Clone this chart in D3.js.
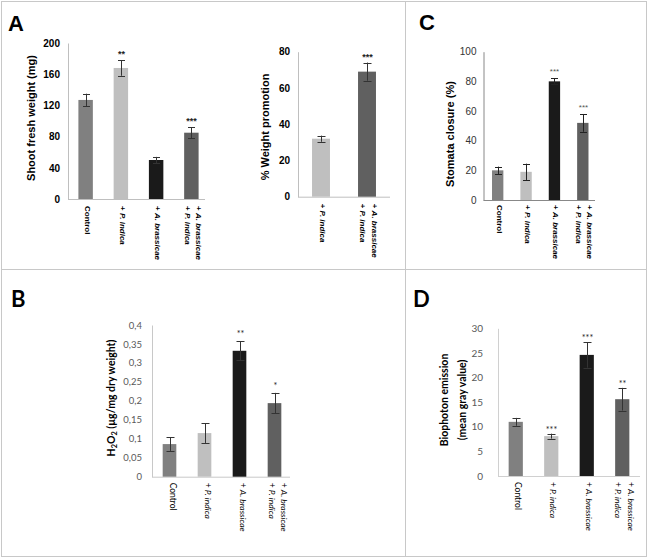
<!DOCTYPE html>
<html><head><meta charset="utf-8">
<script src="https://cdn.jsdelivr.net/npm/d3@7"></script>
<style>body{margin:0;background:#fff}svg{display:block}</style>
</head><body>
<svg id="chart" width="649" height="558"></svg>
<script>
// ---------- data ----------
const categories = ["Control", "+ P. indica", "+ A. brassicae", "+ A. brassicae|+ P. indica"];
const promoCategories = ["+ P. indica", "+ A. brassicae|+ P. indica"];
const barColors = ["#808080", "#bfbfbf", "#1a1a1a", "#606060"];
const promoColors = ["#bfbfbf", "#606060"];

const shootWeight = [127, 168, 50, 85];
const shootWeightErr = [8, 10, 4, 7];
const shootWeightSig = ["", "**", "", "***"];
const shootTicks = [0, 40, 80, 120, 160, 200];

const weightPromotion = [32, 69];
const weightPromotionErr = [1.7, 5];
const weightPromotionSig = ["", "***"];
const promotionTicks = [0, 20, 40, 60, 80];

const stomataClosure = [20, 19, 80, 52];
const stomataClosureErr = [2.5, 5.5, 2, 6];
const stomataClosureSig = ["", "", "***", "***"];
const stomataTicks = [0, 20, 40, 60, 80, 100];

const h2o2 = [0.086, 0.115, 0.332, 0.194];
const h2o2Err = [0.018, 0.026, 0.025, 0.027];
const h2o2Sig = ["", "", "**", "*"];
const h2o2Ticks = [0, 0.05, 0.1, 0.15, 0.2, 0.25, 0.3, 0.35, 0.4];

const biophoton = [11.0, 8.1, 24.6, 15.6];
const biophotonErr = [0.8, 0.5, 2.6, 2.3];
const biophotonSig = ["", "***", "***", "**"];
const biophotonTicks = [0, 5, 10, 15, 20, 25, 30];

// ---------- drawing ----------
const svg = d3.select("#chart");
const ARIAL = "'Liberation Sans', Arial, sans-serif";
const CALIBRI = "Lato, 'Open Sans', sans-serif";

// frame
const frame = svg.append("g").attr("fill", "none").attr("stroke", "#c8c8c8").attr("stroke-width", 1);
frame.append("rect").attr("x", 1.5).attr("y", 1.5).attr("width", 645).attr("height", 555);
frame.append("line").attr("x1", 1.5).attr("x2", 646.5).attr("y1", 269.5).attr("y2", 269.5);
frame.append("line").attr("x1", 405.5).attr("x2", 405.5).attr("y1", 1.5).attr("y2", 556.5);

function panelLetter(t, x, y, font) {
  svg.append("text").attr("x", x).attr("y", y).text(t)
    .attr("font-family", font).attr("font-weight", "bold").attr("font-size", 22).attr("fill", "#000");
}
panelLetter("A", 8, 31, ARIAL);
panelLetter("C", 419, 30, ARIAL);
panelLetter("B", 11, 307, CALIBRI);
panelLetter("D", 413, 307, CALIBRI);

function drawChart(o) {
  const g = svg.append("g");
  const x = d3.scaleBand().domain(o.cats).range(o.xr).paddingInner(o.pad).paddingOuter(o.pad / 2);
  const y = d3.scaleLinear().domain([0, o.ticks[o.ticks.length - 1]]).range(o.yr);

  const yAxis = g.append("g").attr("transform", `translate(${o.xr[0]},0)`)
    .call(d3.axisLeft(y).tickValues(o.ticks).tickSize(0).tickPadding(o.tickPad).tickFormat(o.fmt));
  yAxis.select(".domain").attr("stroke", o.axisColor);
  yAxis.selectAll("text").attr("font-family", o.font).attr("font-size", o.tickSize)
    .attr("font-weight", o.tickWeight).attr("fill", o.tickColor);

  const xAxis = g.append("g").attr("transform", `translate(0,${o.yr[0]})`)
    .call(d3.axisBottom(x).tickSize(0).tickFormat(""));
  xAxis.select(".domain").attr("stroke", o.axisColor);
  xAxis.select(".domain").attr("d", `M${o.xr[0]},0.5H${o.xEnd}`);

  g.selectAll("rect.bar").data(o.values).join("rect").attr("class", "bar")
    .attr("x", (d, i) => x(o.cats[i])).attr("width", x.bandwidth())
    .attr("y", d => y(d)).attr("height", d => y(0) - y(d))
    .attr("fill", (d, i) => o.colors[i]);

  const eb = g.append("g").attr("stroke", o.errColor).attr("stroke-width", 1).attr("fill", "none");
  o.values.forEach((v, i) => {
    const cx = Math.round(x(o.cats[i]) + x.bandwidth() / 2) + 0.5;
    const t = y(v + o.err[i]), b = y(v - o.err[i]);
    eb.append("line").attr("x1", cx).attr("x2", cx).attr("y1", t).attr("y2", b);
    eb.append("line").attr("x1", cx - o.cap).attr("x2", cx + o.cap).attr("y1", Math.round(t) + 0.5).attr("y2", Math.round(t) + 0.5);
    eb.append("line").attr("x1", cx - o.cap).attr("x2", cx + o.cap).attr("y1", Math.round(b) + 0.5).attr("y2", Math.round(b) + 0.5);
    if (o.sig[i]) {
      g.append("text").attr("x", cx + o.sigDx).attr("y", t - o.sigGap).attr("text-anchor", "middle")
        .attr("font-family", o.font).attr("font-size", o.sigSize).attr("font-weight", o.sigWeight)
        .attr("fill", o.sigColor).text(o.sig[i]);
    }
  });

  o.cats.forEach((c, i) => {
    const cx = x(c) + x.bandwidth() / 2 + o.labDx;
    const lines = c.split("|");
    const tg = g.append("g").attr("transform", `translate(${cx},${o.yr[0] + o.labGap}) rotate(90)`);
    lines.forEach((ln, j) => {
      const t = tg.append("text").attr("x", 0).attr("y", (j - (lines.length - 1) / 2) * o.labLH)
        .attr("dominant-baseline", "central")
        .attr("font-family", o.font).attr("font-size", o.labSize).attr("font-weight", o.labWeight)
        .attr("fill", "#000");
      if (ln.startsWith("+ ")) {
        t.append("tspan").text("+ ");
        t.append("tspan").attr("font-style", "italic").text(ln.slice(2));
      } else t.text(ln);
    });
  });

  const yt = g.append("g").attr("transform", `translate(${o.titleX},${o.titleY}) rotate(-90)`);
  o.title.forEach((ln, j) => {
    const t = yt.append("text").attr("x", 0).attr("y", (j - (o.title.length - 1) / 2) * o.titleLH)
      .attr("text-anchor", "middle").attr("dominant-baseline", "central")
      .attr("font-family", o.font).attr("font-size", o.titleSize).attr("font-weight", "bold").attr("fill", "#000");
    ln.forEach(part => {
      const s = t.append("tspan").text(part.t);
      if (part.sub) s.attr("font-size", o.titleSize * 0.7).attr("dy", 3);
      if (part.up) s.attr("dy", -3);
    });
  });
}

const commaFmt = d => String(d).replace(".", ",");

// A - left
drawChart({
  cats: categories, values: shootWeight, err: shootWeightErr, sig: shootWeightSig, colors: barColors,
  ticks: shootTicks, xr: [68, 209], xEnd: 205, yr: [199, 43], pad: 0.59, fmt: d3.format("d"),
  font: ARIAL, tickSize: 10, tickWeight: "bold", tickColor: "#000", tickPad: 8, axisColor: "#bfbfbf",
  errColor: "#333", cap: 3.5, sigGap: 3, sigDx: 0, sigSize: 9, sigWeight: "bold", sigColor: "#222",
  labDx: 2, labGap: 7, labLH: 11.5, labSize: 8, labWeight: "bold",
  title: [[{t: "Shoot fresh weight (mg)"}]], titleX: 31, titleY: 118, titleSize: 11, titleLH: 12
});
// A - right
drawChart({
  cats: promoCategories, values: weightPromotion, err: weightPromotionErr, sig: weightPromotionSig, colors: promoColors,
  ticks: promotionTicks, xr: [298, 390], xEnd: 390, yr: [196.7, 51.7], pad: 0.61, fmt: d3.format("d"),
  font: ARIAL, tickSize: 10, tickWeight: "bold", tickColor: "#000", tickPad: 8, axisColor: "#bfbfbf",
  errColor: "#333", cap: 4, sigGap: 3, sigDx: 0, sigSize: 9, sigWeight: "bold", sigColor: "#222",
  labDx: 2, labGap: 7, labLH: 11.5, labSize: 8, labWeight: "bold",
  title: [[{t: "% Weight promotion"}]], titleX: 265, titleY: 127, titleSize: 11, titleLH: 12
});
// C
drawChart({
  cats: categories, values: stomataClosure, err: stomataClosureErr, sig: stomataClosureSig, colors: barColors,
  ticks: stomataTicks, xr: [483.5, 597], xEnd: 595, yr: [200, 51.7], pad: 0.6, fmt: d3.format("d"),
  font: ARIAL, tickSize: 10, tickWeight: "normal", tickColor: "#333", tickPad: 7, axisColor: "#888",
  errColor: "#222", cap: 3.5, sigGap: 4, sigDx: 0, sigSize: 8, sigWeight: "normal", sigColor: "#555",
  labDx: 2, labGap: 5, labLH: 11, labSize: 8, labWeight: "bold",
  title: [[{t: "Stomata closure (%)"}]], titleX: 450, titleY: 134, titleSize: 11, titleLH: 12
});
// B
drawChart({
  cats: categories, values: h2o2, err: h2o2Err, sig: h2o2Sig, colors: barColors,
  ticks: h2o2Ticks, xr: [152, 292], xEnd: 290, yr: [476.7, 325], pad: 0.61, fmt: commaFmt,
  font: CALIBRI, tickSize: 9.5, tickWeight: "normal", tickColor: "#595959", tickPad: 10, axisColor: "#c8c8c8",
  errColor: "#333", cap: 4, sigGap: 4, sigDx: 0, sigSize: 9, sigWeight: "normal", sigColor: "#222",
  labDx: 3, labGap: 6, labLH: 12, labSize: 8.5, labWeight: "normal",
  title: [[{t: "H"}, {t: "2", sub: true}, {t: "O", up: true}, {t: "2", sub: true}, {t: " (µg/mg dry weight)", up: true}]],
  titleX: 111, titleY: 398, titleSize: 10.5, titleLH: 12
});
// D
drawChart({
  cats: categories, values: biophoton, err: biophotonErr, sig: biophotonSig, colors: barColors,
  ticks: biophotonTicks, xr: [498, 640], xEnd: 640, yr: [476, 328.3], pad: 0.6, fmt: d3.format("d"),
  font: CALIBRI, tickSize: 10, tickWeight: "normal", tickColor: "#595959", tickPad: 15, axisColor: "#d0d0d0",
  errColor: "#333", cap: 4, sigGap: 1, sigDx: 0, sigSize: 9, sigWeight: "normal", sigColor: "#222",
  labDx: 2, labGap: 6, labLH: 13, labSize: 8.5, labWeight: "normal",
  title: [[{t: "Biophoton emission"}], [{t: "(mean gray value)"}]], titleX: 453, titleY: 400, titleSize: 10.5, titleLH: 18
});
</script>
</body></html>
